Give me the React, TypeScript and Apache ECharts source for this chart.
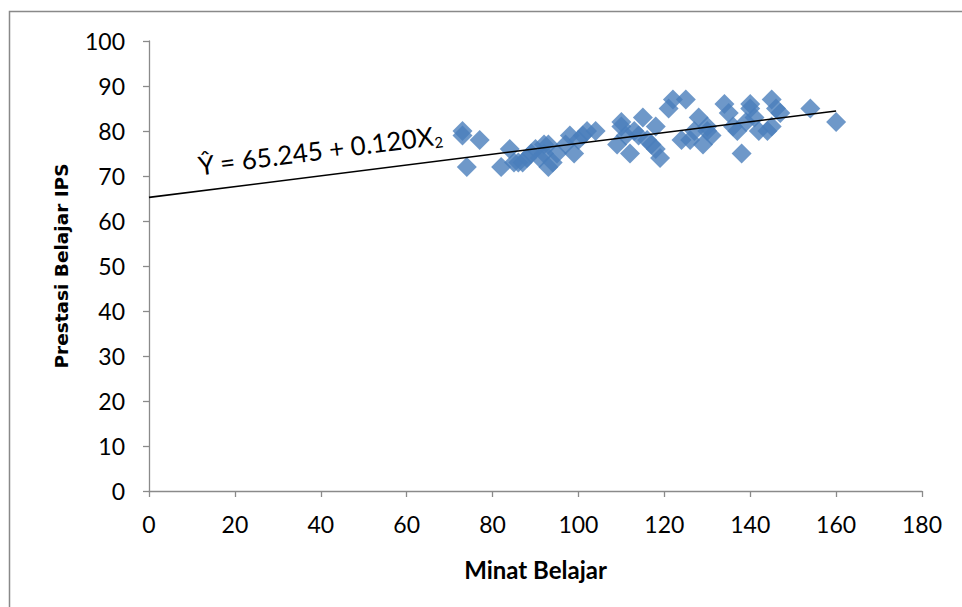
import React, { useEffect, useRef } from "react";
import * as echarts from "echarts";

const minatBelajar: number[] = [
  73, 73, 77, 74, 82, 84, 85, 86, 87, 88, 89, 90, 91, 92, 92, 93, 93, 94, 95, 97,
  98, 99, 100, 101, 102, 104, 109, 110, 110, 111, 112, 113, 114, 115, 116, 117, 118, 118, 119, 121,
  122, 125, 124, 126, 127, 128, 129, 130, 131, 130, 134, 135, 136, 137, 138, 139, 140, 140, 141, 142,
  144, 145, 145, 146, 147, 154, 160,
];
const prestasiIPS: number[] = [
  80, 79, 78, 72, 72, 76, 73, 73, 73, 74, 75, 76, 74, 77, 75, 72, 77, 73, 75, 77,
  79, 75, 78, 79, 80, 80, 77, 82, 81, 79, 75, 80, 79, 83, 78, 77, 81, 76, 74, 85,
  87, 87, 78, 78, 80, 83, 77, 80, 79, 81, 86, 84, 81, 80, 75, 82, 86, 85, 83, 80,
  80, 81, 87, 85, 84, 85, 82,
];
const xTicks: number[] = [0, 20, 40, 60, 80, 100, 120, 140, 160, 180];
const yTicks: number[] = [0, 10, 20, 30, 40, 50, 60, 70, 80, 90, 100];
const intercept = 65.245;
const slope = 0.12;
const trendRange: number[] = [0, 160];

export default function App() {
  const ref = useRef<HTMLDivElement>(null);
  useEffect(() => {
    if (!ref.current) return;
    const chart = echarts.init(ref.current, undefined, { renderer: "svg" });
    const points = minatBelajar.map((x, i) => [x, prestasiIPS[i]]);
    const trend = trendRange.map((x) => [x, intercept + slope * x]);
    const font = "Lato, 'Open Sans', sans-serif";
    chart.setOption({
      animation: false,
      backgroundColor: "#fff",
      grid: { left: 149, right: 40, top: 41, bottom: 116 },
      xAxis: {
        type: "value",
        min: xTicks[0],
        max: xTicks[xTicks.length - 1],
        interval: 20,
        name: "Minat Belajar",
        nameLocation: "middle",
        nameGap: 66,
        nameTextStyle: { fontFamily: font, fontWeight: "bold", fontSize: 24, color: "#000" },
        axisLine: { lineStyle: { color: "#8a8a8a", width: 1.3 } },
        axisTick: { show: true, length: 6, lineStyle: { color: "#8a8a8a", width: 1.3 } },
        axisLabel: { margin: 21, fontFamily: font, fontSize: 23, color: "#000" },
        splitLine: { show: false },
      },
      yAxis: {
        type: "value",
        min: yTicks[0],
        max: yTicks[yTicks.length - 1],
        interval: 10,
        name: "Prestasi Belajar IPS",
        nameLocation: "middle",
        nameGap: 78,
        nameTextStyle: { fontFamily: "'DejaVu Sans', sans-serif", fontWeight: "bold", fontSize: 18.5, color: "#000" },
        axisLine: { show: true, lineStyle: { color: "#8a8a8a", width: 1.3 } },
        axisTick: { show: true, length: 6, lineStyle: { color: "#8a8a8a", width: 1.3 } },
        axisLabel: { margin: 24, fontFamily: font, fontSize: 23, color: "#000" },
        splitLine: { show: false },
      },
      series: [
        {
          type: "line",
          data: trend,
          symbol: "none",
          lineStyle: { color: "#000", width: 1.6 },
          z: 3,
        },
        {
          type: "scatter",
          data: points,
          symbol: "diamond",
          symbolSize: 20,
          itemStyle: { color: "#4A7EBB" },
          z: 2,
        },
      ],
      graphic: [
        {
          type: "rect",
          shape: { x: 9.5, y: 11.5, width: 1000, height: 700 },
          style: { fill: "none", stroke: "#898989", lineWidth: 1.5 },
          silent: true,
        },
        {
          type: "text",
          x: 320,
          y: 150,
          rotation: (7.3 * Math.PI) / 180,
          style: {
            text: "Ŷ = 65.245 + 0.120X{sub|2}",
            fontFamily: font,
            fontSize: 26,
            fill: "#000",
            align: "center",
            verticalAlign: "middle",
            rich: {
              sub: { fontSize: 15, fontFamily: font, fill: "#000", padding: [14, 0, 0, 0] },
            },
          },
        },
      ],
    });
    return () => chart.dispose();
  }, []);
  return (
    <div
      ref={ref}
      style={{ position: "fixed", left: 0, top: 0, width: 962, height: 607 }}
    />
  );
}
